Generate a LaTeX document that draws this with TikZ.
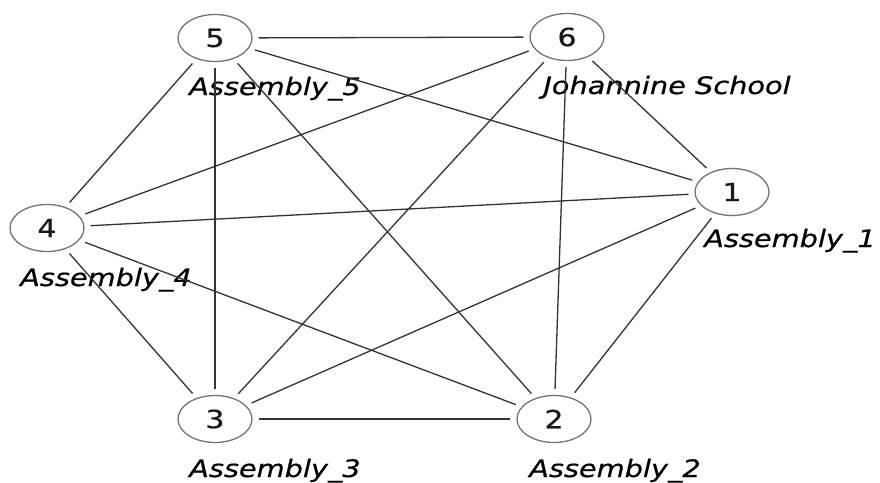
\documentclass[tikz,border=0pt]{standalone}
\usepackage{fontspec}
\setmainfont{DejaVu Sans}
\newfontfamily\lblfont[FakeStretch=1.2,FakeBold=0.6]{DejaVu Sans}
\usetikzlibrary{shapes.geometric}
\begin{document}
\begin{tikzpicture}[x=1pt,y=-1pt,
 vtx/.style={ellipse, draw=black!55, line width=1.3pt, minimum width=74pt, minimum height=47pt, inner sep=0pt, font=\lblfont\fontsize{25}{25}\selectfont, text=black!90},
 lbl/.style={anchor=base, font=\lblfont\itshape\fontsize{24}{24}\selectfont, inner sep=0pt, text=black},
 edge/.style={draw=black!80, line width=1.3pt, shorten <=6pt, shorten >=6pt}]
\useasboundingbox (0,0) rectangle (880,482);
\node[vtx] (n5) at (215,38) {5};
\node[vtx] (n6) at (567,37) {6};
\node[vtx] (n4) at (47,228) {4};
\node[vtx] (n1) at (732,192) {1};
\node[vtx] (n3) at (215,419) {3};
\node[vtx] (n2) at (554,419) {2};
\node[lbl] (l5) at (275,95) {Assembly\_5};
\node[lbl] (l6) at (667,94) {Johannine School};
\node[lbl] (l4) at (106,286) {Assembly\_4};
\node[lbl] (l1) at (790,247) {Assembly\_1};
\node[lbl] (l3) at (275,477) {Assembly\_3};
\node[lbl] (l2) at (615,477) {Assembly\_2};
\foreach \a/\b in {n5/n6,n5/n1,n5/n4,n5/n3,n5/n2,n6/n4,n6/n3,n6/n2,n6/n1,n4/n1,n4/n3,n4/n2,n3/n1,n3/n2,n2/n1}
  \draw[edge] (\a) -- (\b);
\end{tikzpicture}
\end{document}
